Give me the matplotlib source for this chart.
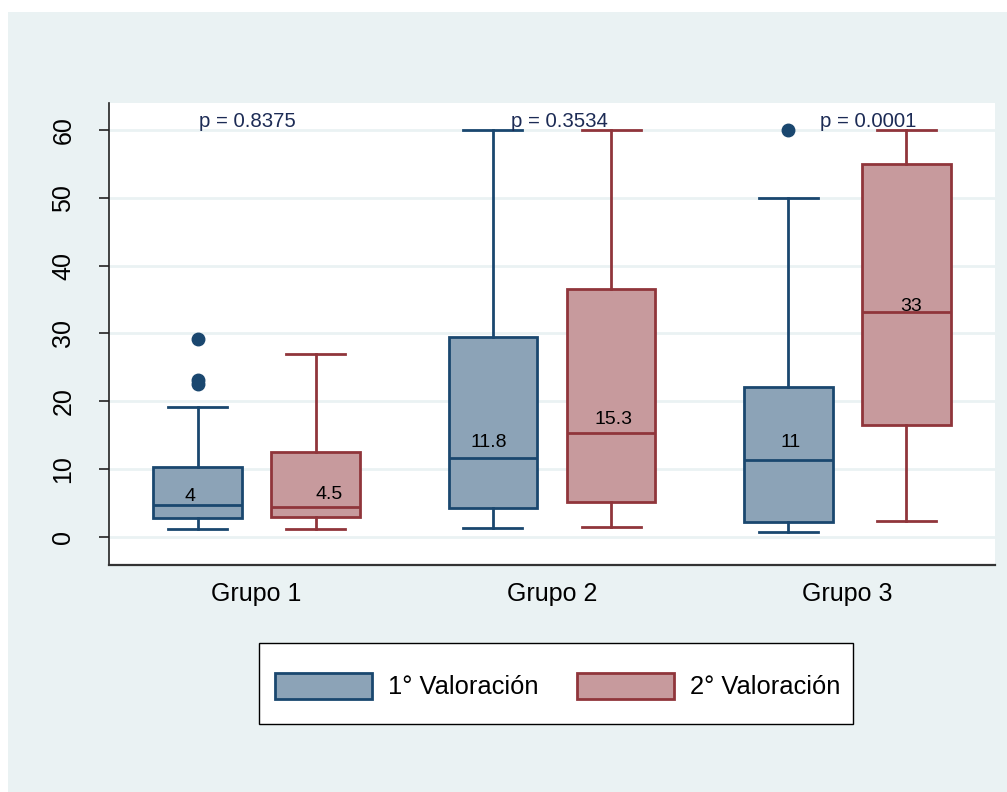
import matplotlib
matplotlib.use("Agg")
import matplotlib.pyplot as plt
from matplotlib.patches import Patch, Rectangle

plt.rcParams['font.family'] = ['Liberation Sans', 'DejaVu Sans']

# ---- data ----
groups = ["Grupo 1", "Grupo 2", "Grupo 3"]
series = ["1° Valoración", "2° Valoración"]
# per box: (group index, series index)
q1 = [2.8, 2.9, 4.3, 5.2, 2.2, 16.5]
med = [4.7, 4.4, 11.7, 15.3, 11.3, 33.2]
q3 = [10.3, 12.5, 29.5, 36.6, 22.1, 55.0]
whis_lo = [1.2, 1.2, 1.3, 1.5, 0.7, 2.4]
whis_hi = [19.2, 27.0, 60.0, 60.0, 50.0, 60.0]
fliers = [[29.2, 23.1, 22.6], [], [], [], [60.0], []]
median_labels = ["4", "4.5", "11.8", "15.3", "11", "33"]
p_values = ["p = 0.8375", "p = 0.3534", "p = 0.0001"]
yticks = [0, 10, 20, 30, 40, 50, 60]

# ---- style ----
edge = ['#1A476F', '#90353B']
fill = ['#8CA3B7', '#C79A9D']
bg = '#EAF2F3'

W, H = 1007, 792
fig = plt.figure(figsize=(W / 100, H / 100), dpi=100, facecolor='white')
fig.patches.append(Rectangle((8 / W, 0), 1 - 8 / W, 1 - 12 / H, transform=fig.transFigure,
                             facecolor=bg, edgecolor='none', zorder=-10))

ax = fig.add_axes([109 / W, (H - 565) / H, (995 - 109) / W, (565 - 103) / H])
ax.set_facecolor('white')
ax.set_xlim(-0.5, 2.5)
ax.set_ylim(-4.13, 63.98)

offsets = [-0.2, 0.2]
for i in range(6):
    g, s = divmod(i, 2)
    pos = g + offsets[s]
    st = dict(med=med[i], q1=q1[i], q3=q3[i], whislo=whis_lo[i], whishi=whis_hi[i], fliers=fliers[i])
    ax.bxp([st], positions=[pos], widths=0.3, capwidths=0.2, patch_artist=True, showfliers=True,
           boxprops=dict(facecolor=fill[s], edgecolor=edge[s], linewidth=2),
           medianprops=dict(color=edge[s], linewidth=2),
           whiskerprops=dict(color=edge[s], linewidth=2),
           capprops=dict(color=edge[s], linewidth=2),
           flierprops=dict(marker='o', markerfacecolor=edge[s], markeredgecolor=edge[s], markersize=9),
           manage_ticks=False, zorder=3)

# median value labels (annotation placement)
label_y = [6.0, 6.2, 13.9, 17.3, 13.9, 34.0]
label_dx = [-0.027, 0.047, -0.014, 0.007, 0.007, 0.017]
for i in range(6):
    g, s = divmod(i, 2)
    ax.text(g + offsets[s] + label_dx[i], label_y[i], median_labels[i], ha='center', va='center',
            fontsize=14, color='black', zorder=5)

p_x = [-0.03, 1.024, 2.071]
for g in range(3):
    ax.text(p_x[g], 61.2, p_values[g], ha='center', va='center', fontsize=14.7,
            color='#1C2B55', zorder=5)

ax.set_yticks(yticks)
ax.set_yticklabels([str(v) for v in yticks], rotation=90, va='center', fontsize=18)
ax.set_xticks(range(3))
ax.set_xticklabels(groups, fontsize=18)
ax.tick_params(axis='x', length=0, pad=12)
ax.tick_params(axis='y', length=7.2, width=1.2, pad=17, color='#222222')
ax.grid(axis='y', color=bg, linewidth=2, zorder=0)
ax.set_axisbelow(True)
for sp in ['top', 'right']:
    ax.spines[sp].set_visible(False)
ax.spines['left'].set_color('#222222')
ax.spines['bottom'].set_color('#333333')
ax.spines['left'].set_linewidth(1.2)
ax.spines['bottom'].set_linewidth(1.6)

# legend frame drawn separately
fig.patches.append(Rectangle((259 / W, (H - 724) / H), (853 - 259) / W, (724 - 643) / H,
                             transform=fig.transFigure, facecolor='white', edgecolor='black',
                             linewidth=1.0, zorder=1))
handles = [Patch(facecolor=fill[k], edgecolor=edge[k], linewidth=2, label=series[k]) for k in range(2)]
leg = fig.legend(handles=handles, loc='center', bbox_to_anchor=(558 / W, (H - 686) / H), ncol=2,
                 fontsize=18.4, frameon=False,
                 handlelength=3.8, handleheight=1.2, handletextpad=0.63, columnspacing=1.5,
                 borderpad=0.5)
leg.set_zorder(2)

fig.savefig('out.png', dpi=100, facecolor='white')
